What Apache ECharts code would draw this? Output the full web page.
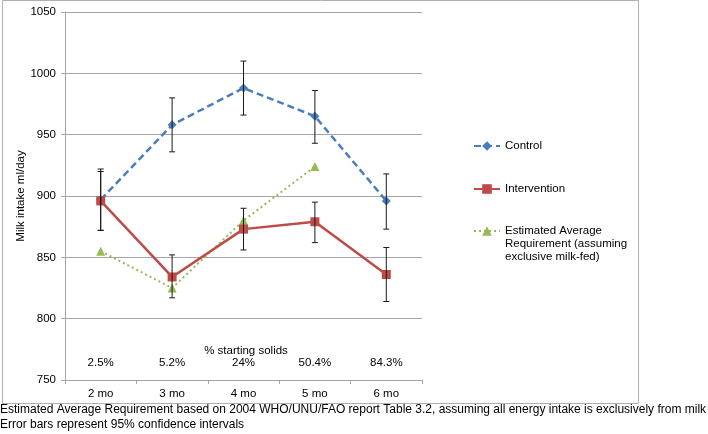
<!DOCTYPE html>
<html><head><meta charset="utf-8">
<script src="https://cdn.jsdelivr.net/npm/echarts@6/dist/echarts.min.js"></script>
<style>html,body{margin:0;padding:0;background:#fff}#c{width:708px;height:434px}</style>
</head><body><div id="c"></div>
<script>
const categories = ['2 mo', '3 mo', '4 mo', '5 mo', '6 mo'];
const solidsLabels = ['2.5%', '5.2%', '24%', '50.4%', '84.3%'];
const solidsTitle = '% starting solids';
const control = [897, 958, 988, 965, 896];
const controlLow = [872, 936, 966, 943, 873];
const controlHigh = [922, 980, 1010, 986, 918];
const intervention = [896, 834, 873, 879, 836];
const interventionLow = [872, 817, 856, 862, 814];
const interventionHigh = [920, 852, 890, 895, 858];
const ear = [855, 825, 880, 924, null];
const earName = 'Estimated Average\nRequirement (assuming\nexclusive milk-fed)';
const noteLine1 = 'Estimated Average Requirement based on 2004 WHO/UNU/FAO report Table 3.2, assuming all energy intake is exclusively from milk';
const noteLine2 = 'Error bars represent 95% confidence intervals';

const FONT = "'Liberation Sans', Arial, sans-serif";
const chart = echarts.init(document.getElementById('c'), null, {renderer: 'canvas'});

function errData(low, high) {
  return low.map((l, i) => [i, l, high[i]]);
}
function renderErr(params, api) {
  const x = api.value(0);
  const lo = api.coord([x, api.value(1)]);
  const hi = api.coord([x, api.value(2)]);
  const w = 3;
  const style = {stroke: '#1a1a1a', lineWidth: 1};
  return {
    type: 'group',
    children: [
      {type: 'line', shape: {x1: lo[0], y1: lo[1], x2: hi[0], y2: hi[1]}, style},
      {type: 'line', shape: {x1: lo[0] - w, y1: lo[1], x2: lo[0] + w, y2: lo[1]}, style},
      {type: 'line', shape: {x1: hi[0] - w, y1: hi[1], x2: hi[0] + w, y2: hi[1]}, style}
    ]
  };
}

const legendBase = {
  orient: 'vertical', left: 468, itemWidth: 26, itemHeight: 12, itemGap: 0,
  textStyle: {fontFamily: FONT, fontSize: 11.5, color: '#000', lineHeight: 13}
};

chart.setOption({
  animation: false,
  backgroundColor: '#fff',
  textStyle: {fontFamily: FONT},
  grid: {left: 65, right: 286, top: 12, bottom: 54, containLabel: false},
  legend: [
    Object.assign({}, legendBase, {top: 134.5, data: ['Control']}),
    Object.assign({}, legendBase, {top: 177.5, data: ['Intervention']}),
    Object.assign({}, legendBase, {top: 193.5, data: [earName],
      formatter: name => '\n\n' + name})
  ],
  xAxis: [
    {
      type: 'category', data: categories, boundaryGap: true,
      axisLine: {lineStyle: {color: '#a6a6a6'}},
      axisTick: {show: true, length: 4, lineStyle: {color: '#a6a6a6'}},
      axisLabel: {color: '#000', fontSize: 11.5, margin: 8, fontFamily: FONT},
      splitLine: {show: false}
    },
    {
      type: 'category', data: solidsLabels, position: 'bottom', boundaryGap: true,
      axisLine: {show: false}, axisTick: {show: false},
      axisLabel: {inside: true, color: '#000', fontSize: 11.5, margin: 11, fontFamily: FONT}
    }
  ],
  yAxis: {
    type: 'value', min: 750, max: 1050, interval: 50,
    name: 'Milk intake ml/day', nameLocation: 'middle', nameGap: 38, nameMoveOverlap: false,
    nameTextStyle: {color: '#000', fontSize: 11.5, fontFamily: FONT},
    axisLine: {show: true, lineStyle: {color: '#a6a6a6'}},
    axisTick: {show: true, length: 4, lineStyle: {color: '#a6a6a6'}},
    axisLabel: {color: '#000', fontSize: 11.5, margin: 9, fontFamily: FONT, formatter: v => String(v)},
    splitLine: {lineStyle: {color: '#a6a6a6'}}
  },
  series: [
    {
      name: 'Control', type: 'line', data: control,
      symbol: 'diamond', symbolSize: 9,
      lineStyle: {color: '#4a7ebb', width: 2.5, type: [7, 4]},
      itemStyle: {color: '#4a7ebb'}, z: 3
    },
    {
      name: 'Intervention', type: 'line', data: intervention,
      symbol: 'rect', symbolSize: 9,
      lineStyle: {color: '#be4b48', width: 2.5},
      itemStyle: {color: '#be4b48'}, z: 3
    },
    {
      name: earName, type: 'line', data: ear,
      symbol: 'triangle', symbolSize: 9,
      lineStyle: {color: '#98b954', width: 2, type: [2, 3]},
      itemStyle: {color: '#98b954'}, z: 2
    },
    {
      type: 'custom', data: errData(controlLow, controlHigh), renderItem: renderErr,
      z: 5, silent: true
    },
    {
      type: 'custom', data: errData(interventionLow, interventionHigh), renderItem: renderErr,
      z: 5, silent: true
    }
  ],
  graphic: [
    {type: 'rect', shape: {x: 2.5, y: 0.5, width: 636, height: 403}, style: {fill: 'none', stroke: '#b0b0b0', lineWidth: 1}, z: -1, silent: true},
    {type: 'text', x: 246, y: 351, style: {text: solidsTitle, fill: '#000', font: '11.5px ' + FONT, textAlign: 'center', textVerticalAlign: 'middle'}},
    {type: 'text', left: 0, top: 404, style: {text: noteLine1, fill: '#000', font: '12px ' + FONT}},
    {type: 'text', left: 0, top: 419, style: {text: noteLine2, fill: '#000', font: '12px ' + FONT}}
  ]
});
</script></body></html>
